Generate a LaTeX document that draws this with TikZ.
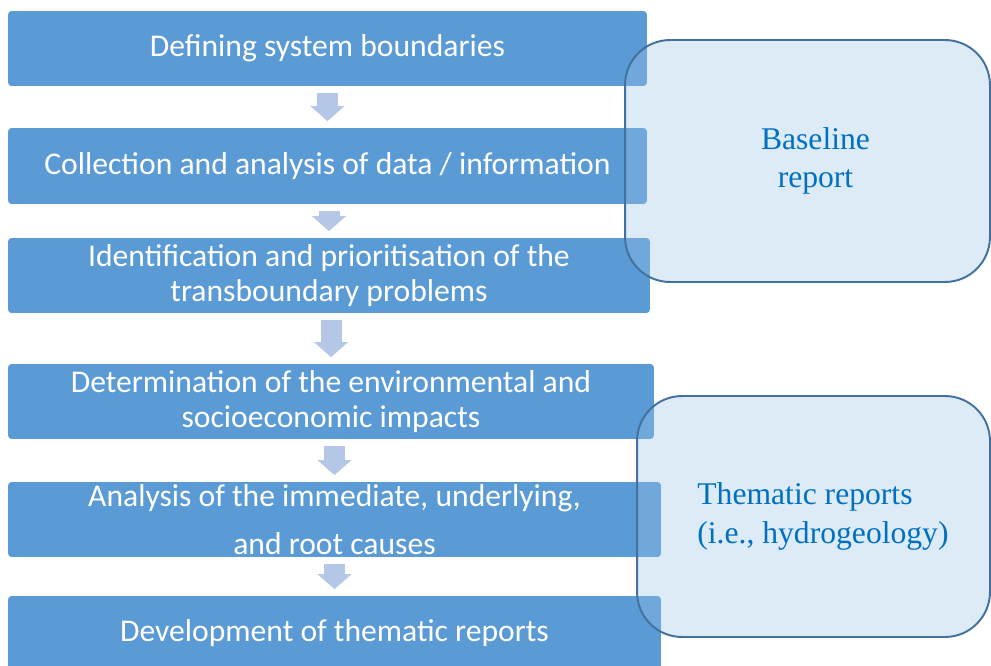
\documentclass[tikz,border=0pt]{standalone}
\usepackage{fontspec}
\setmainfont{Liberation Serif}
\newfontfamily\stepfont{Carlito}
\usepackage{xcolor}
\usetikzlibrary{arrows.meta}

\definecolor{stepblue}{RGB}{91,155,213}
\definecolor{arrowblue}{RGB}{180,199,231}
\definecolor{reportfill}{RGB}{154,195,231}
\definecolor{reportline}{RGB}{65,113,156}
\definecolor{reporttext}{RGB}{0,112,192}

\begin{document}
\begin{tikzpicture}[x=0.02cm,y=-0.02cm,
    stepbox/.style={fill=stepblue,rounded corners=2pt,text=white,align=center,
        inner sep=0pt,minimum height=1.5cm,font=\stepfont\fontsize{18}{20}\selectfont},
    flow/.style={arrowblue,line width=0.42cm,-{Triangle[width=0.66cm,length=0.3cm]},
        shorten <=0.13cm,shorten >=0.13cm},
    reportbox/.style={draw=reportline,line width=1.1pt,fill=reportfill,fill opacity=0.34,
        text opacity=1,rounded corners=0.9cm,text=reporttext,align=center,
        font=\fontsize{18}{22}\selectfont}]
        \useasboundingbox (0,0) rectangle (991,666);
        % Steps
        \draw (327.5,48.5) node[stepbox,minimum width=12.78cm](define) {Defining system boundaries};
        \draw (327.5,166) node[stepbox,minimum width=12.78cm,minimum height=1.52cm](collect) {Collection and analysis of data / information};
        \draw (329,275.5) node[stepbox,minimum width=12.84cm](identify) {Identification and prioritisation of the\\transboundary problems};
        \draw (331,401.5) node[stepbox,minimum width=12.92cm](impacts) {Determination of the environmental and\\socioeconomic impacts};
        \draw (334.5,519.5) node[stepbox,minimum width=13.06cm](causes) {Analysis of the immediate, underlying,\\[7pt]and root causes};
        \draw (334.5,633) node[stepbox,minimum width=13.06cm,minimum height=1.48cm](develop) {Development of thematic reports};
        % Arrows
        \draw[flow] (define.south -| collect.north) -- (collect.north);
        \draw[flow] (collect.south -| identify.north) -- (identify.north);
        \draw[flow] (identify.south -| impacts.north) -- (impacts.north);
        \draw[flow] (impacts.south -| causes.north) -- (causes.north);
        \draw[flow] (causes.south -| develop.north) -- (develop.north);
        % Reports
        \draw (807.5,161) node[reportbox,minimum width=7.3cm,minimum height=4.84cm](baseline) {\hspace*{0.32cm}Baseline\\\hspace*{0.32cm}report};
        \draw (813.5,516.5) node[reportbox,align=left,minimum width=7.06cm,minimum height=4.82cm](thematic) {\hspace*{0.38cm}Thematic reports\\\hspace*{0.38cm}(i.e., hydrogeology)};
    \end{tikzpicture}
\end{document}
